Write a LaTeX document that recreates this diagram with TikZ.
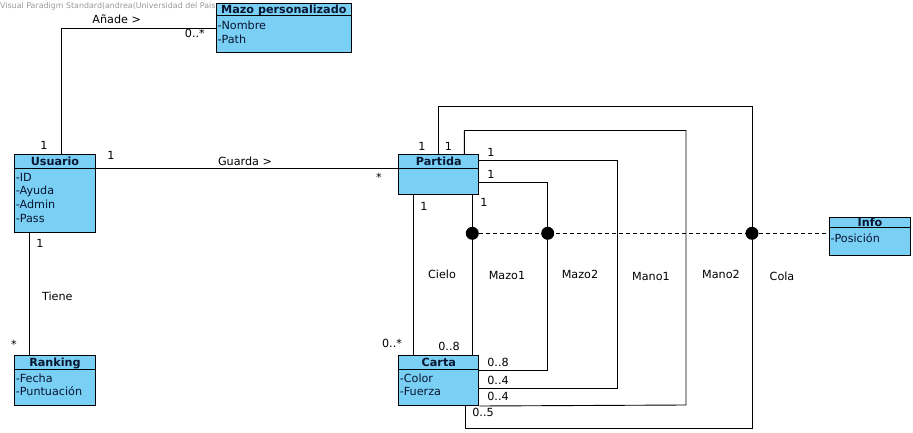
\documentclass[tikz,border=0pt]{standalone}
\usepackage{fontspec}
\setmainfont{DejaVu Sans}
\usepackage{xcolor}
\usepackage{tikz}
\usetikzlibrary{positioning,calc}
\definecolor{vpblue}{RGB}{122,207,245}
\definecolor{vpnavy}{RGB}{8,22,48}
\newcommand{\vpsize}{\fontsize{11.2}{14}\selectfont}
\tikzset{
  classbox/.style={rectangle, draw=black, line width=1pt, fill=vpblue, anchor=north west, inner sep=0pt},
  classname/.style={anchor=base, inner sep=0pt, font=\vpsize\bfseries, text=vpnavy},
  attr/.style={anchor=base west, inner sep=0pt, font=\vpsize, text=vpnavy},
  lbl/.style={inner sep=0pt, text height=8.1pt, text depth=0pt, font=\vpsize},
  assoc/.style={line width=0.9pt},
  assocdash/.style={line width=0.9pt, dash pattern=on 4pt off 3pt},
  joint/.style={circle, fill=black, minimum size=13pt, inner sep=0pt}
}

\begin{document}
\begin{tikzpicture}[x=1pt,y=-1pt]
\useasboundingbox (0,0) rectangle (913,433);
\node[anchor=base west, inner sep=0pt, font=\fontsize{7.9}{9}\selectfont, text=black!40] (marca) at (0,8.5) {Visual Paradigm Standard(andrea(Universidad del Pais};

\node[classbox, minimum width=134.7, minimum height=49.6] (mazo) at (216,2.7) {};
\node[classbox, minimum width=80.4, minimum height=77.7] (usuario) at (14.3,154.3) {};
\node[classbox, minimum width=80.4, minimum height=50] (ranking) at (14.3,355.3) {};
\node[classbox, minimum width=80, minimum height=40] (partida) at (398.3,154.3) {};
\node[classbox, minimum width=80, minimum height=50] (carta) at (398.3,355) {};
\node[classbox, minimum width=81, minimum height=38.3] (info) at (829,216.7) {};
\foreach \c/\h in {mazo/13,usuario/14,ranking/14,partida/14,carta/14,info/11}
  \draw[line width=1pt] ([yshift=-\h pt]\c.north west) -- ([yshift=-\h pt]\c.north east);
\foreach \c/\t/\d in {mazo/Mazo personalizado/10.8,usuario/Usuario/11.2,ranking/Ranking/11.2,partida/Partida/10.9,carta/Carta/11.2,info/Info/9.5}
  \node[classname] (\c-t) at ([yshift=-\d pt]\c.north) {\t};
\foreach \c/\a/\d [count=\i] in {mazo/Nombre/26.6,mazo/Path/40.6,usuario/ID/26.7,usuario/Ayuda/40.5,usuario/Admin/54.3,usuario/Pass/68,ranking/Fecha/26.7,ranking/Puntuación/40.4,carta/Color/27,carta/Fuerza/40.4,info/Posición/25.6}
  \node[attr] (attr-\i) at ([xshift=1.3pt,yshift=-\d pt]\c.north west) {-\a};

\draw[assoc] ([xshift=46.7pt]usuario.north west) |- (mazo.west);
\draw[assoc] ([yshift=-14pt]usuario.north east) -- ([yshift=-14pt]partida.north west);
\draw[assoc] ([xshift=15pt]usuario.south west) -- ([xshift=15pt]ranking.north west);
\draw[assoc] ([xshift=15.4pt]partida.south west) -- ([xshift=15.4pt]carta.north west);
\draw[assoc] ([xshift=74pt]partida.south west) -- ([xshift=74pt]carta.north west);
\draw[assoc] ([yshift=-28pt]partida.north east) -| (547.7,370) -- ([yshift=-15pt]carta.north east);
\draw[assoc] ([yshift=-6pt]partida.north east) -| (617,388) -- ([yshift=-33pt]carta.north east);
\draw[assoc] ([xshift=66pt]partida.north west) |- (686,130.5) -- (686,405) -- (carta.south east);
\draw[assoc] ([xshift=40pt]partida.north west) |- (752,106) -- (752,428.5) -| ([xshift=67pt]carta.south west);

\node[joint] (j1) at (472.3,233.3) {};
\node[joint] (j2) at (547.7,233.3) {};
\node[joint] (j3) at (752,233.3) {};
\draw[assocdash] (j1) -- (j1 -| info.west);

\foreach \x/\y/\t [count=\i] in {116.7/19.4/Añade >,194.8/33.4/0..*,44/145.6/1,111/155.7/1,245/161/Guarda >,379/177/*,40/243.7/1,57.3/296.3/Tiene,14/344/*,
  422/146/1,448.5/146/1,491/152/1,491/174.4/1,424/206/1,484/202/1,
  442/274.5/Cielo,507/275/Mazo1,580/274/Mazo2,651/276/Mano1,721/274/Mano2,782/276/Cola,
  392/343.4/0..*,449/346.8/0..8,498/362/0..8,498/380/0..4,498/396.8/0..4,483/412.8/0..5}
  \node[lbl] (m-\i) at (\x,\y) {\t};
\end{tikzpicture}
\end{document}
